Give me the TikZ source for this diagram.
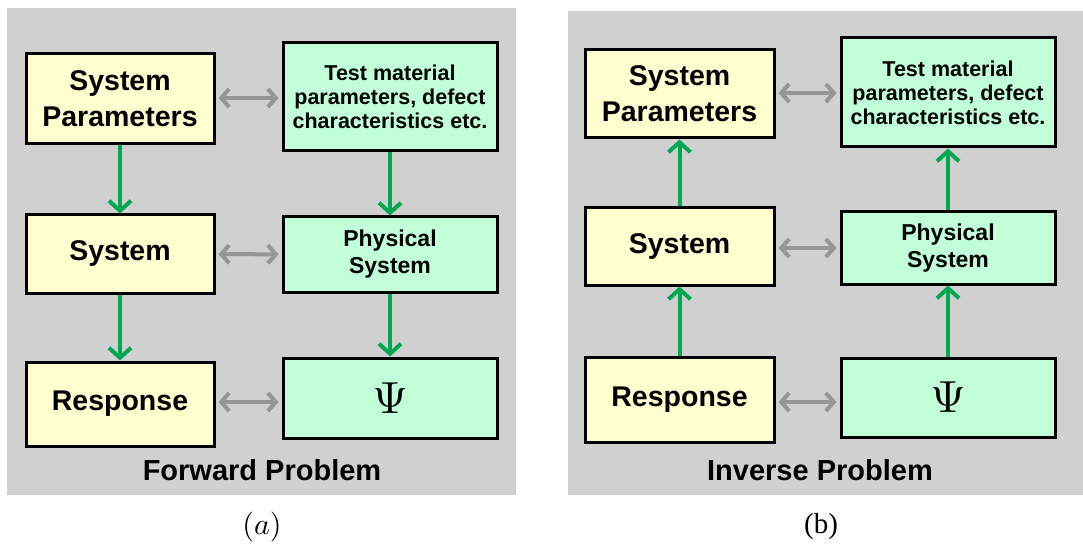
\documentclass[tikz,border=0pt]{standalone}
\usepackage{graphicx}
\usepackage{fontspec}
\setmainfont{Liberation Sans}
\newfontfamily\capfont{Liberation Serif}
\usetikzlibrary{arrows.meta}
\definecolor{panelgray}{RGB}{208,208,208}
\definecolor{boxyellow}{RGB}{255,255,208}
\definecolor{boxgreen}{RGB}{192,255,216}
\definecolor{flowgreen}{RGB}{0,168,82}
\definecolor{linkgray}{RGB}{150,150,150}
\begin{document}
\begin{tikzpicture}[x=1pt,y=-1pt,
  ybox/.style={draw=black, line width=3pt, fill=boxyellow, inner sep=0pt, align=center,
    minimum width=188pt, font=\fontsize{28.5}{36}\selectfont\bfseries},
  gbox/.style={draw=black, line width=3pt, fill=boxgreen, inner sep=0pt, align=center,
    minimum width=214pt, font=\fontsize{23}{27}\selectfont\bfseries},
  small/.style={font=\fontsize{21.5}{24}\selectfont\bfseries},
  flow/.style={draw=flowgreen, line width=4pt, -{Straight Barb[length=10pt,width=22pt,line width=4pt]}},
  link/.style={draw=linkgray, line width=4pt, {Straight Barb[length=8pt,width=18pt]}-{Straight Barb[length=8pt,width=18pt]}, shorten <=3pt, shorten >=3pt},
  title/.style={font=\fontsize{29}{32}\selectfont\bfseries}]
\useasboundingbox (0,0) rectangle (1083,545);
\fill[panelgray] (7,8) rectangle (516,495);
\fill[panelgray] (568,11) rectangle (1083,495);
% forward problem
\node[ybox, minimum height=90pt] (fsp) at (120,99){System\\Parameters};
\node[gbox, small, minimum height=108pt] (ftm) at (390,97){Test material\\parameters, defect\\characteristics etc.};
\node[ybox, minimum height=78pt] (fsys) at (120,254){System};
\node[gbox, minimum height=75pt] (fphy) at (390,254.5){Physical\\System};
\node[ybox, minimum height=84pt] (fres) at (120,404){Response};
\node[gbox, minimum height=80pt, font=\normalsize] (fpsi) at (390,398){\scalebox{4.5}{$\Psi$}};
\draw[flow] (fsp) -- (fsys);
\draw[flow] (fsys) -- (fres);
\draw[flow] (ftm) -- (fphy);
\draw[flow] (fphy) -- (fpsi);
\draw[link] (fsp.east |- 0,98) -- (ftm.west |- 0,98);
\draw[link] (fsys) -- (fphy);
\draw[link] (fres.east |- 0,402) -- (fpsi.west |- 0,402);
\node[title] (ftitle) at (262,470){Forward Problem};
\node (fcap) at (262,527){\scalebox{3}{$(a)$}};
% inverse problem
\node[ybox, minimum width=189pt, minimum height=88pt] (isp) at (679.5,94){System\\Parameters};
\node[gbox, small, minimum height=109pt] (itm) at (948,92.5){Test material\\parameters, defect\\characteristics etc.};
\node[ybox, minimum width=189pt, minimum height=77pt] (isys) at (679.5,246.5){System};
\node[gbox, minimum height=72pt] (iphy) at (948,248){Physical\\System};
\node[ybox, minimum width=189pt, minimum height=85pt] (ires) at (679.5,399.5){Response};
\node[gbox, minimum height=79pt, font=\normalsize] (ipsi) at (948,397.5){\scalebox{4.5}{$\Psi$}};
\draw[flow] (isys) -- (isp);
\draw[flow] (ires) -- (isys);
\draw[flow] (iphy) -- (itm);
\draw[flow] (ipsi) -- (iphy);
\draw[link] (isp.east |- 0,93) -- (itm.west |- 0,93);
\draw[link] (isys.east |- 0,248) -- (iphy.west |- 0,248);
\draw[link] (ires.east |- 0,402) -- (ipsi.west |- 0,402);
\node[title] (ititle) at (820,470){Inverse Problem};
\node[font=\fontsize{29}{32}\selectfont\capfont] (icap) at (821,527){(b)};
\end{tikzpicture}
\end{document}
